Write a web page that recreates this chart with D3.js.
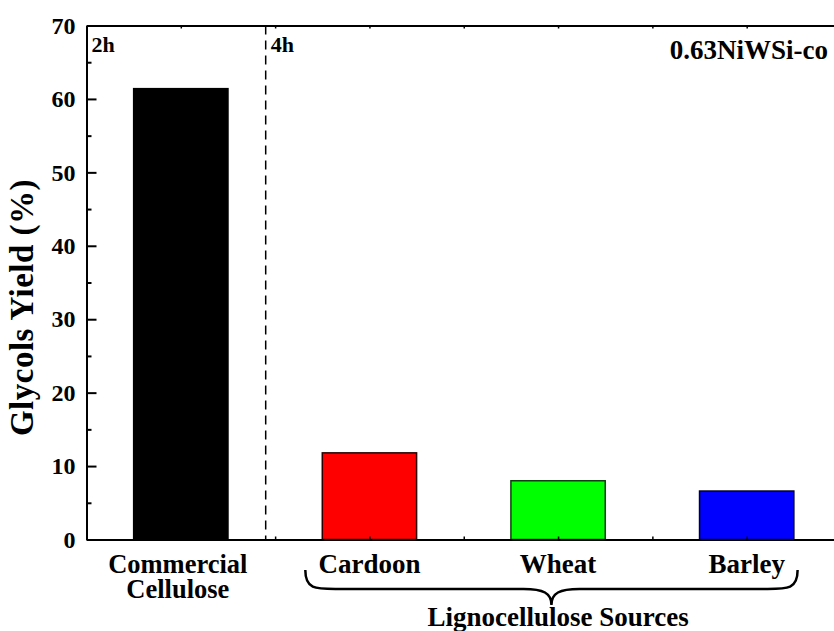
<!DOCTYPE html>
<html>
<head>
<meta charset="utf-8">
<script src="https://cdn.jsdelivr.net/npm/d3@7"></script>
<style>
  html, body { margin: 0; padding: 0; background: #ffffff; }
  svg { display: block; }
  text { font-family: "Liberation Serif", "Times New Roman", serif; font-weight: bold; fill: #000; }
</style>
</head>
<body>
<svg id="chart" width="834" height="631"></svg>
<script>
// Glycols yield per feedstock (0.63NiWSi-co catalyst)
const categories = ["Commercial\nCellulose", "Cardoon", "Wheat", "Barley"];
const yields = [61.4, 11.8, 8.0, 6.6];
const barColors = ["#000000", "#ff0000", "#00ff00", "#0000ff"];
const barStrokes = ["#000000", "#2a0000", "#0f3f0f", "#00002a"];
const yMajorTicks = [0, 10, 20, 30, 40, 50, 60, 70];
const yMinorTicks = [5, 15, 25, 35, 45, 55, 65];
const xTickValues = [1, 1.5, 2, 2.5, 3, 3.5, 4];
const timeLabels = ["2h", "4h"];
const groupLabel = "Lignocellulose Sources";
const catalystLabel = "0.63NiWSi-co";
const yTitle = "Glycols Yield (%)";

const svg = d3.select("#chart");
const plotLeft = 86.5, plotTop = 25.5, plotBottom = 539.5, plotRight = 841;

const x = d3.scaleLinear().domain([0.5, 4.5]).range([plotLeft, plotRight]);
const y = d3.scaleLinear().domain([0, 70]).range([plotBottom, plotTop]);
const pos = i => i + 1;           // category i sits at x = i + 1
const barW = x(1.5) - x(1);       // half a category unit wide

// bars
svg.append("g").selectAll("rect")
  .data(yields)
  .join("rect")
  .attr("x", (d, i) => x(pos(i)) - barW / 2)
  .attr("y", d => y(d))
  .attr("width", barW)
  .attr("height", d => y(0) - y(d))
  .attr("fill", (d, i) => barColors[i])
  .attr("stroke", (d, i) => barStrokes[i])
  .attr("stroke-width", 1.5);

// divider between the 2h and 4h runs
svg.append("line")
  .attr("x1", x(1.45)).attr("x2", x(1.45))
  .attr("y1", y(70)).attr("y2", y(0))
  .attr("stroke", "#000").attr("stroke-width", 1.5)
  .attr("stroke-dasharray", "9,6");

// y axis: major ticks with labels, minor ticks without
const yAxis = svg.append("g").attr("transform", `translate(${plotLeft},0)`)
  .call(d3.axisLeft(y).tickValues(yMajorTicks).tickSizeInner(-10).tickSizeOuter(0).tickPadding(11));
yAxis.select(".domain").attr("stroke-width", 2);
yAxis.selectAll(".tick line").attr("stroke-width", 2);
yAxis.selectAll(".tick text")
  .style("font-size", "24px")
  .style("font-family", "'Liberation Serif', serif")
  .style("font-weight", "bold");

const yMinor = svg.append("g").attr("transform", `translate(${plotLeft},0)`)
  .call(d3.axisLeft(y).tickValues(yMinorTicks).tickSizeInner(-5).tickSizeOuter(0).tickFormat(""));
yMinor.select(".domain").remove();
yMinor.selectAll(".tick line").attr("stroke-width", 2);

// bottom and top x axes with small inward ticks
const xb = svg.append("g").attr("transform", `translate(0,${plotBottom})`)
  .call(d3.axisBottom(x).tickValues(xTickValues).tickSizeInner(-3).tickSizeOuter(0).tickFormat(""));
xb.select(".domain").attr("stroke-width", 2);
xb.selectAll(".tick line").attr("stroke-width", 1.5);

const xt = svg.append("g").attr("transform", `translate(0,${plotTop})`)
  .call(d3.axisTop(x).tickValues(xTickValues).tickSizeInner(-3).tickSizeOuter(0).tickFormat(""));
xt.select(".domain").attr("stroke-width", 2);
xt.selectAll(".tick line").attr("stroke-width", 1.5);

// right frame
svg.append("line")
  .attr("x1", plotRight).attr("x2", plotRight).attr("y1", plotTop).attr("y2", plotBottom)
  .attr("stroke", "#000").attr("stroke-width", 2);

// category labels
const catG = svg.append("g");
categories.forEach((c, i) => {
  const cx = x(pos(i)) - (i === 0 ? 3 : 0);
  const lines = c.split("\n");
  lines.forEach((line, k) => {
    catG.append("text")
      .attr("x", cx)
      .attr("y", 573 + k * 25)
      .attr("text-anchor", "middle")
      .style("font-size", lines.length > 1 ? "26.5px" : "27px")
      .text(line);
  });
});

// curly brace grouping the lignocellulose sources
const bl = x(1.66), br = x(4.27), bm = (bl + br) / 2;
const yEnd = 570, yMid = 589, yTip = 605;
const brace = d3.path();
brace.moveTo(bl, yEnd);
brace.bezierCurveTo(bl, yMid, bl + 10, yMid, bl + 30, yMid);
brace.lineTo(bm - 28, yMid);
brace.bezierCurveTo(bm - 8, yMid, bm, yMid + 4, bm, yTip);
brace.bezierCurveTo(bm, yMid + 4, bm + 8, yMid, bm + 28, yMid);
brace.lineTo(br - 30, yMid);
brace.bezierCurveTo(br - 10, yMid, br, yMid, br, yEnd);
svg.append("path")
  .attr("d", brace.toString())
  .attr("fill", "none")
  .attr("stroke", "#000")
  .attr("stroke-width", 2.5);

svg.append("text")
  .attr("x", x(3))
  .attr("y", 626)
  .attr("text-anchor", "middle")
  .style("font-size", "27px")
  .text(groupLabel);

// run-time annotations
svg.append("text").attr("x", x(0.5) + 5).attr("y", 51.5)
  .style("font-size", "22px").text(timeLabels[0]);
svg.append("text").attr("x", x(1.45) + 5).attr("y", 51.5)
  .style("font-size", "22px").text(timeLabels[1]);

// catalyst name
svg.append("text").attr("x", 828).attr("y", 59)
  .attr("text-anchor", "end")
  .style("font-size", "27px").text(catalystLabel);

// y axis title
svg.append("text")
  .attr("transform", `translate(33,${(178 + 437) / 2}) rotate(-90)`)
  .attr("text-anchor", "middle")
  .style("font-size", "33px")
  .style("letter-spacing", "0.5px")
  .text(yTitle);
</script>
</body>
</html>
